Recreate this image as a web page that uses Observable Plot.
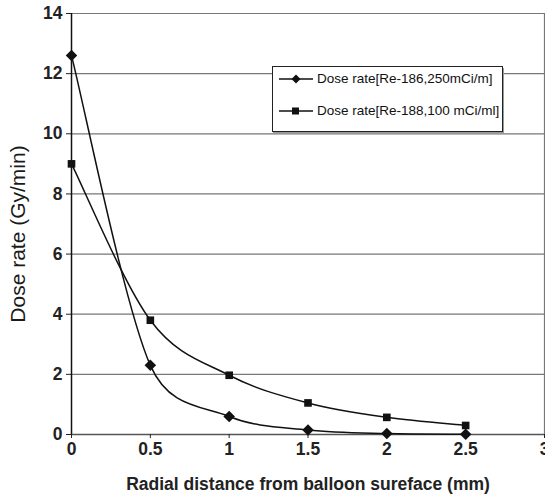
<!DOCTYPE html>
<html>
<head>
<meta charset="utf-8">
<script src="https://cdn.jsdelivr.net/npm/d3@7"></script>
<script src="https://cdn.jsdelivr.net/npm/@observablehq/plot@0.6"></script>
<style>
  html, body { margin: 0; padding: 0; background: #fff; }
  #wrap { position: relative; width: 545px; height: 502px; font-family: "Liberation Sans", Arial, sans-serif; }
  #legend { position: absolute; left: 272px; top: 66px; width: 229px; height: 64px; border: 1px solid #222;
            background: #fff; box-shadow: 1px 2px 0 #999; font-size: 13.5px; color: #111; }
  .row { position: absolute; left: 6px; display: flex; align-items: center; }
  .row svg { margin-right: 2px; }
</style>
</head>
<body>
<div id="wrap"></div>
<script>
const distances = [0, 0.5, 1, 1.5, 2, 2.5];
const re186 = [12.6, 2.3, 0.6, 0.15, 0.03, 0.01];
const re188 = [9.0, 3.8, 1.97, 1.05, 0.57, 0.3];
const seriesNames = ["Dose rate[Re-186,250mCi/m]", "Dose rate[Re-188,100 mCi/ml]"];
const xTicks = [0, 0.5, 1, 1.5, 2, 2.5, 3];
const yTicks = [0, 2, 4, 6, 8, 10, 12, 14];
const xLabel = "Radial distance from balloon sureface (mm)";
const yLabel = "Dose rate (Gy/min)";

const d186 = distances.map((d, i) => ({x: d, y: re186[i]}));
const d188 = distances.map((d, i) => ({x: d, y: re188[i]}));

// Spreadsheet-style smoothed line: cardinal Bezier with control arms limited to half the segment chord
function smoothLine(context) {
  let pts = [];
  return {
    areaStart() {}, areaEnd() {},
    lineStart() { pts = []; },
    point(x, y) { pts.push([+x, +y]); },
    lineEnd() {
      const n = pts.length;
      if (!n) return;
      context.moveTo(pts[0][0], pts[0][1]);
      const clamp = (v, max) => {
        const l = Math.hypot(v[0], v[1]);
        return l > max && l > 0 ? [v[0] * max / l, v[1] * max / l] : v;
      };
      for (let i = 0; i < n - 1; i++) {
        const p0 = pts[Math.max(i - 1, 0)], p1 = pts[i], p2 = pts[i + 1], p3 = pts[Math.min(i + 2, n - 1)];
        const d = Math.hypot(p2[0] - p1[0], p2[1] - p1[1]);
        const t1 = clamp([(p2[0] - p0[0]) / 6, (p2[1] - p0[1]) / 6], d * 0.5);
        const t2 = clamp([(p3[0] - p1[0]) / 6, (p3[1] - p1[1]) / 6], d * 0.5);
        context.bezierCurveTo(p1[0] + t1[0], p1[1] + t1[1], p2[0] - t2[0], p2[1] - t2[1], p2[0], p2[1]);
      }
    }
  };
}

const chart = Plot.plot({
  width: 545,
  height: 502,
  marginLeft: 71,
  marginRight: 1,
  marginTop: 13,
  marginBottom: 68,
  style: { fontFamily: "Liberation Sans, Arial, sans-serif", fontWeight: "bold", fontSize: "17px", color: "#222", background: "#fff" },
  x: { domain: [0, 3] },
  y: { domain: [0, 14] },
  marks: [
    Plot.ruleY(yTicks.filter(d => d > 0), { stroke: "#777", strokeWidth: 1.2 }),
    Plot.ruleX([3], { stroke: "#777", strokeWidth: 1.2 }),
    Plot.ruleY([0], { stroke: "#555", strokeWidth: 1.5 }),
    Plot.ruleX([0], { stroke: "#111", strokeWidth: 1.5 }),
    Plot.axisX({ ticks: xTicks, tickFormat: d => String(d), tickSize: 4, tickPadding: 4, label: null, fontSize: 17.5, fontWeight: "bold" }),
    Plot.axisY({ ticks: yTicks, tickSize: 5, tickPadding: 4, label: null, fontSize: 17.5, fontWeight: "bold" }),
    Plot.line(d188, { x: "x", y: "y", curve: smoothLine, stroke: "#111", strokeWidth: 1.5 }),
    Plot.line(d186, { x: "x", y: "y", curve: smoothLine, stroke: "#111", strokeWidth: 1.5 }),
    Plot.dot(d188, { x: "x", y: "y", symbol: "square", r: 4.3, fill: "#111", stroke: null }),
    Plot.dot(d186, { x: "x", y: "y", symbol: "diamond2", r: 5.2, fill: "#111", stroke: null }),
    Plot.text([xLabel], { frameAnchor: "bottom", dy: 55, fontSize: 17.5, fontWeight: "bold", fill: "#222" }),
    Plot.text([yLabel], { frameAnchor: "left", textAnchor: "middle", dx: -53, dy: 10, rotate: -90, fontSize: 21, fontWeight: "normal", fill: "#1a1a1a" })
  ]
});

const wrap = document.getElementById("wrap");
wrap.appendChild(chart);

const legend = document.createElement("div");
legend.id = "legend";
const syms = [
  '<polygon points="17,0.5 21.5,5 17,9.5 12.5,5" fill="#111"/>',
  '<rect x="13" y="1.5" width="7" height="7" fill="#111"/>'
];
seriesNames.forEach((name, i) => {
  const row = document.createElement("div");
  row.className = "row";
  row.style.top = (i === 0 ? 4 : 36) + "px";
  row.innerHTML = `<svg width="36" height="10"><line x1="0" y1="5" x2="34" y2="5" stroke="#111" stroke-width="1.5"/>${syms[i]}</svg><span>${name}</span>`;
  legend.appendChild(row);
});
wrap.appendChild(legend);
</script>
</body>
</html>
